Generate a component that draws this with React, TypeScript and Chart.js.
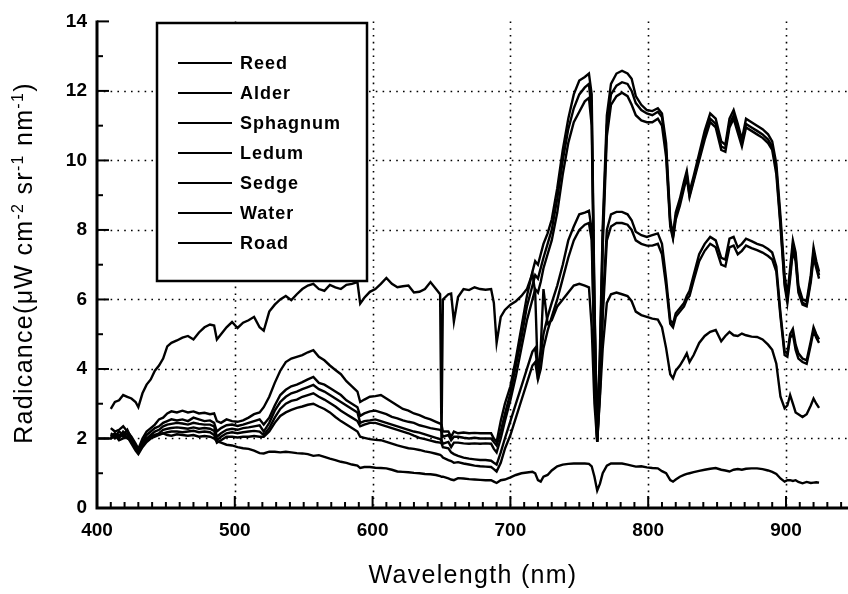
import React, { useEffect, useRef } from "react";
import { Chart, registerables } from "chart.js";

Chart.register(...registerables);

// Wavelength grid (nm), shared by all series
const wavelengths = [
  400, 405, 410, 413, 416, 419, 422, 425, 428, 430,
  433, 436, 439, 442, 445, 448, 451, 454, 458, 462,
  466, 470, 474, 478, 482, 485, 487, 490, 494, 498,
  502, 506, 510, 514, 518, 521, 525, 529, 533, 537,
  541, 545, 549, 553, 557, 561, 565, 569, 573, 577,
  581, 585, 589, 591, 594, 598, 602, 606, 610, 614,
  618, 622, 626, 630, 634, 638, 642, 646, 649, 650,
  651, 655, 657, 659, 662, 666, 670, 674, 678, 682,
  686, 688, 690, 693, 696, 700, 704, 708, 712, 716,
  718, 720, 722, 724, 727, 730, 734, 738, 742, 746,
  750, 754, 757, 759, 761, 763, 765, 767, 770, 773,
  777, 781, 785, 788, 791, 795, 799, 803, 807, 810,
  813, 816, 818, 820, 823, 826, 828, 830, 833, 837,
  841, 845, 849, 853, 856, 859, 862, 865, 868, 871,
  875, 879, 883, 887, 890, 893, 896, 899, 901, 903,
  905, 907, 909, 912, 915, 918, 920, 922, 924,
];

const reed = [
  null, null, 2.3, 2.2, 2.25, 2.35, 2.2, 2.05, 1.85, 1.7,
  2.0, 2.2, 2.3, 2.4, 2.55, 2.6, 2.72, 2.78, 2.75, 2.8,
  2.75, 2.78, 2.72, 2.74, 2.7, 2.72, 2.5, 2.45, 2.55, 2.5,
  2.48, 2.52, 2.6, 2.7, 2.75, 2.9, 3.2, 3.6, 3.95, 4.2,
  4.3, 4.35, 4.4, 4.48, 4.54, 4.35, 4.25, 4.1, 3.97, 3.85,
  3.65, 3.5, 3.35, 3.05, 3.12, 3.2, 3.22, 3.25, 3.15, 3.05,
  2.95, 2.85, 2.8, 2.72, 2.67, 2.6, 2.55, 2.48, 2.43, 2.4,
  2.2, 2.2, 2.05, 2.2, 2.15, 2.17, 2.15, 2.16, 2.15, 2.15,
  2.15, 2.0, 1.9, 2.5, 3.0, 3.5, 4.3, 5.2, 6.1, 6.8,
  7.1, 7.0, 7.3, 7.6, 7.9, 8.3, 9.2, 10.3, 11.2, 11.9,
  12.3, 12.4, 12.5, 11.9, 6.0, 1.95, 4.6, 8.1, 11.3, 12.2,
  12.5, 12.58, 12.5, 12.35, 11.85, 11.6, 11.45, 11.42, 11.5, 11.35,
  10.5, 8.3, 7.85, 8.5, 8.9, 9.4, 9.7, 9.1, 9.55, 10.2,
  10.85, 11.35, 11.2, 10.55, 10.45, 11.2, 11.45, 11.05, 10.6, 11.2,
  11.1, 11.0, 10.9, 10.75, 10.55, 9.9, 8.4, 6.7, 6.1, 6.9,
  7.7, 7.35, 6.4, 6.0, 5.95, 6.7, 7.5, 7.1, 6.8,
];

const alder = [
  null, null, 2.15, 2.05, 2.2, 2.1, 2.25, 2.0, 1.8, 1.65,
  1.9, 2.1, 2.2, 2.3, 2.35, 2.45, 2.5, 2.55, 2.52, 2.55,
  2.5, 2.6, 2.55, 2.5, 2.52, 2.45, 2.2, 2.3, 2.38, 2.4,
  2.36, 2.4, 2.45, 2.5, 2.55, 2.4, 2.6, 2.95, 3.25, 3.4,
  3.5, 3.55, 3.62, 3.7, 3.77, 3.6, 3.55, 3.45, 3.35, 3.25,
  3.1, 3.0, 2.9, 2.65, 2.72, 2.78, 2.8, 2.75, 2.7, 2.62,
  2.58, 2.52, 2.48, 2.45, 2.38, 2.34, 2.3, 2.27, 2.25, 2.2,
  2.05, 2.1, 1.95, 2.05, 2.05, 2.02, 2.0, 2.02, 2.0, 2.0,
  2.0, 1.9, 1.8, 2.2, 2.7, 3.3, 4.1, 4.9, 5.8, 6.4,
  6.7, 6.6, 6.9, 7.2, 7.6, 8.0, 8.9, 10.0, 10.9, 11.5,
  11.9, 12.1, 12.2, 11.4, 5.8, 1.95, 4.3, 7.8, 11.0, 11.9,
  12.15, 12.25, 12.2, 12.0, 11.65, 11.45, 11.35, 11.3, 11.4, 11.25,
  10.3, 8.2, 7.8, 8.4, 8.8, 9.3, 9.6, 9.0, 9.45, 10.1,
  10.7, 11.2, 11.05, 10.4, 10.35, 11.05, 11.3, 10.9, 10.5, 11.05,
  10.95, 10.85, 10.75, 10.6, 10.4, 9.75, 8.2, 6.5, 6.0, 6.75,
  7.55, 7.2, 6.3, 5.9, 5.85, 6.6, 7.35, 7.0, 6.7,
];

const sphagnum = [
  null, null, 2.05, 2.15, 2.0, 2.2, 2.1, 1.95, 1.75, 1.6,
  1.85, 2.0, 2.1, 2.2, 2.25, 2.35, 2.4, 2.42, 2.45, 2.43,
  2.4, 2.45, 2.42, 2.4, 2.4, 2.35, 2.05, 2.15, 2.25, 2.28,
  2.25, 2.3, 2.32, 2.35, 2.38, 2.2, 2.45, 2.8, 3.05, 3.2,
  3.3, 3.35, 3.42, 3.48, 3.54, 3.42, 3.35, 3.25, 3.15, 3.05,
  2.95, 2.85, 2.75, 2.45, 2.5, 2.52, 2.55, 2.5, 2.45, 2.4,
  2.35, 2.3, 2.25, 2.2, 2.17, 2.12, 2.07, 2.02, 1.98, 1.95,
  1.85, 1.9, 1.75, 1.88, 1.88, 1.86, 1.85, 1.86, 1.85, 1.86,
  1.85, 1.7, 1.6, 2.0, 2.5, 3.1, 3.8, 4.6, 5.4, 6.0,
  6.3, 6.2, 6.5, 6.9, 7.3, 7.7, 8.5, 9.6, 10.5, 11.1,
  11.4, 11.7, 11.8, 11.0, 5.5, 1.9, 4.0, 7.5, 10.7, 11.6,
  11.85, 11.95, 11.85, 11.6, 11.3, 11.15, 11.1, 11.1, 11.2, 11.0,
  10.1, 8.1, 7.75, 8.3, 8.7, 9.2, 9.5, 8.95, 9.4, 10.0,
  10.6, 11.1, 10.95, 10.3, 10.25, 10.95, 11.2, 10.8, 10.4, 10.95,
  10.85, 10.75, 10.65, 10.5, 10.3, 9.6, 8.1, 6.4, 5.9, 6.6,
  7.4, 7.1, 6.2, 5.85, 5.8, 6.5, 7.2, 6.9, 6.6,
];

const ledum = [
  null, null, 2.1, 2.0, 2.1, 2.05, 2.15, 1.9, 1.7, 1.58,
  1.8, 1.95, 2.05, 2.1, 2.15, 2.25, 2.28, 2.3, 2.32, 2.3,
  2.28, 2.32, 2.28, 2.3, 2.28, 2.22, 1.95, 2.05, 2.15, 2.18,
  2.15, 2.18, 2.2, 2.22, 2.2, 2.1, 2.3, 2.6, 2.85, 3.0,
  3.08, 3.12, 3.2, 3.25, 3.3, 3.2, 3.12, 3.02, 2.92, 2.8,
  2.7, 2.6, 2.5, 2.35, 2.4, 2.45, 2.45, 2.4, 2.35, 2.3,
  2.25, 2.2, 2.15, 2.08, 2.02, 1.98, 1.94, 1.9, 1.88, 1.86,
  1.75, 1.72, 1.6, 1.55, 1.5, 1.45, 1.42, 1.4, 1.38, 1.38,
  1.36, 1.3, 1.25, 1.6, 2.0, 2.5, 3.0, 3.5, 4.0, 4.5,
  4.6, 3.9, 4.4, 5.0, 5.5, 5.9, 6.4, 7.0, 7.7, 8.1,
  8.45, 8.5, 8.55, 8.0, 4.5, 1.95, 3.5, 5.8, 8.0, 8.45,
  8.52, 8.52, 8.45, 8.28, 7.95, 7.85, 7.8, 7.85, 7.9, 7.6,
  6.6, 5.4, 5.3, 5.6, 5.75, 5.9, 6.1, 6.25, 6.7, 7.3,
  7.6, 7.8, 7.7, 7.2, 7.15, 7.75, 7.8, 7.5, 7.6, 7.75,
  7.68, 7.6, 7.55, 7.45, 7.35, 6.95, 5.6, 4.5, 4.45, 5.0,
  5.15, 4.7, 4.45, 4.3, 4.25, 4.8, 5.2, 5.0, 4.85,
];

const sedge = [
  null, null, 2.0, 2.1, 1.95, 2.0, 2.05, 1.85, 1.65, 1.55,
  1.75, 1.9, 2.0, 2.05, 2.1, 2.15, 2.18, 2.2, 2.2, 2.18,
  2.2, 2.22, 2.18, 2.2, 2.18, 2.1, 1.88, 1.95, 2.05, 2.05,
  2.03, 2.05, 2.05, 2.07, 2.05, 2.05, 2.2, 2.45, 2.65, 2.75,
  2.82, 2.88, 2.92, 2.97, 3.0, 2.92, 2.85, 2.75, 2.62, 2.5,
  2.4, 2.3, 2.2, 2.05, 2.02, 1.98, 1.96, 1.95, 1.9, 1.85,
  1.8, 1.76, 1.72, 1.7, 1.67, 1.63, 1.6, 1.56, 1.53, 1.5,
  1.45, 1.38, 1.35, 1.3, 1.32, 1.28, 1.25, 1.22, 1.2, 1.19,
  1.18, 1.12, 1.05, 1.3, 1.7, 2.1, 2.6, 3.1, 3.6, 4.1,
  4.2, 3.7, 4.0, 4.6, 5.1, 5.5, 6.0, 6.6, 7.2, 7.7,
  8.0, 8.15, 8.2, 7.7, 4.3, 1.9, 3.3, 5.5, 7.7, 8.1,
  8.2, 8.2, 8.15, 8.0, 7.7, 7.6, 7.55, 7.55, 7.6, 7.3,
  6.4, 5.3, 5.2, 5.5, 5.65, 5.8, 6.0, 6.1, 6.55, 7.1,
  7.4, 7.6, 7.5, 7.0, 6.95, 7.5, 7.55, 7.3, 7.4, 7.55,
  7.48, 7.42, 7.35, 7.25, 7.15, 6.8, 5.5, 4.4, 4.35, 4.9,
  5.0, 4.55, 4.3, 4.2, 4.15, 4.7, 5.1, 4.9, 4.75,
];

const water = [
  2.0, 2.0, 2.0, 2.1, 2.05, 2.12, 2.0, 1.95, 1.75, 1.62,
  1.85, 2.0, 2.05, 2.1, 2.12, 2.15, 2.1, 2.08, 2.12, 2.1,
  2.08, 2.1, 2.05, 2.07, 2.05, 2.0, 1.92, 1.88, 1.82, 1.8,
  1.75, 1.72, 1.7, 1.65, 1.58, 1.57, 1.62, 1.62, 1.6, 1.62,
  1.6, 1.58, 1.57, 1.55, 1.5, 1.52, 1.47, 1.42, 1.38, 1.33,
  1.3, 1.25, 1.22, 1.15, 1.18, 1.18, 1.16, 1.15, 1.14, 1.1,
  1.05, 1.04, 1.03, 1.01, 1.0, 0.98, 0.97, 0.95, 0.92, 0.9,
  0.9, 0.85, 0.82, 0.8, 0.86, 0.85, 0.83, 0.82, 0.81, 0.8,
  0.8, 0.76, 0.72, 0.8, 0.82, 0.88, 0.95, 1.0, 1.02, 1.04,
  1.0, 0.8, 0.76, 0.9, 0.95, 1.08, 1.2, 1.25, 1.27, 1.28,
  1.28, 1.28, 1.27, 1.2, 0.9, 0.5, 0.7, 1.0, 1.22, 1.28,
  1.28, 1.28, 1.25, 1.22, 1.19, 1.2, 1.17, 1.15, 1.14, 1.06,
  1.0, 0.8, 0.76, 0.82, 0.9, 0.95, 0.98, 1.0, 1.03, 1.07,
  1.1, 1.13, 1.15, 1.1, 1.08, 1.05, 1.1, 1.12, 1.1, 1.13,
  1.14, 1.14, 1.12, 1.08, 1.04, 0.98, 0.85, 0.76, 0.8, 0.8,
  0.78, 0.8, 0.75, 0.71, 0.75, 0.72, 0.73, 0.74, 0.73,
];

const road = [
  null, null, 2.85, 3.05, 3.1, 3.25, 3.2, 3.15, 3.05, 2.9,
  3.3, 3.55, 3.7, 3.95, 4.1, 4.3, 4.65, 4.75, 4.82, 4.9,
  4.95, 4.85, 5.05, 5.2, 5.28, 5.25, 4.85, 5.0, 5.2, 5.35,
  5.18, 5.33, 5.4, 5.5, 5.2, 5.1, 5.65, 5.85, 6.0, 6.1,
  5.98, 6.15, 6.3, 6.4, 6.45, 6.3, 6.25, 6.42, 6.35, 6.3,
  6.42, 6.45, 6.5, 5.88, 6.05, 6.22, 6.3, 6.45, 6.62, 6.45,
  6.35, 6.38, 6.4, 6.2, 6.22, 6.3, 6.5, 6.3, 6.15, 1.9,
  6.0, 6.15, 6.17, 5.36, 6.07, 6.3, 6.27, 6.35, 6.3, 6.28,
  6.3, 5.9, 4.75, 5.5, 5.7, 5.85, 5.95, 6.1, 6.3, 6.75,
  6.2, 3.7, 4.6, 6.3, 5.3, 5.4, 5.8, 6.0, 6.2, 6.4,
  6.45, 6.4, 6.35, 5.2, 3.0, 1.9, 3.2, 4.6, 5.9, 6.15,
  6.2, 6.15, 6.1, 5.95, 5.65, 5.55, 5.5, 5.45, 5.42, 5.2,
  4.6, 3.85, 3.73, 3.95, 4.1, 4.3, 4.45, 4.2, 4.4, 4.75,
  4.95, 5.07, 5.12, 4.8, 4.95, 5.07, 4.97, 4.95, 5.02, 4.97,
  4.93, 4.92, 4.85, 4.7, 4.55, 4.15, 3.2, 2.87, 2.95, 3.25,
  3.0, 2.75, 2.7, 2.62, 2.7, 2.95, 3.15, 3.0, 2.88,
];

const seriesLabels = ["Reed", "Alder", "Sphagnum", "Ledum", "Sedge", "Water", "Road"];
const seriesValues = [reed, alder, sphagnum, ledum, sedge, water, road];

const xTickValues = [400, 500, 600, 700, 800, 900];
const xGridValues = [500, 600, 700, 800, 900];
const yGridValues = [2, 4, 6, 8, 10, 12];

const xTitle = "Wavelength (nm)";
// y title pieces: [text, isSuperscript]
const yTitleParts: [string, boolean][] = [
  ["Radicance(\u03bcW cm", false],
  ["-2", true],
  [" sr", false],
  ["-1", true],
  [" nm", false],
  ["-1", true],
  [")", false],
];

const FONT = '"Liberation Sans", Arial, Helvetica, sans-serif';

const framePlugin = {
  id: "frame",
  beforeDatasetsDraw(chart: any) {
    const { ctx, chartArea: a, scales } = chart;
    const x = scales.x, y = scales.y;
    ctx.save();
    ctx.strokeStyle = "#000";
    ctx.lineWidth = 1.6;
    ctx.setLineDash([1.6, 5.2]);
    for (const v of xGridValues) {
      const px = Math.round(x.getPixelForValue(v)) + 0.5;
      ctx.beginPath();
      ctx.moveTo(px, a.top);
      ctx.lineTo(px, a.bottom);
      ctx.stroke();
    }
    for (const v of yGridValues) {
      const py = Math.round(y.getPixelForValue(v)) + 0.5;
      ctx.beginPath();
      ctx.moveTo(a.left, py);
      ctx.lineTo(a.right, py);
      ctx.stroke();
    }
    ctx.restore();
  },
  afterDatasetsDraw(chart: any) {
    const { ctx, chartArea: a, scales } = chart;
    const x = scales.x, y = scales.y;
    ctx.save();
    ctx.strokeStyle = "#000";
    ctx.setLineDash([]);
    ctx.lineWidth = 2;
    for (let v = x.min; v <= x.max; v += 10) {
      const px = x.getPixelForValue(v);
      const len = v % 100 === 0 ? 12 : 6;
      ctx.beginPath();
      ctx.moveTo(px, a.bottom);
      ctx.lineTo(px, a.bottom - len);
      ctx.stroke();
    }
    for (let v = y.min; v <= y.max; v += 1) {
      const py = y.getPixelForValue(v);
      const len = v % 2 === 0 ? 12 : 6;
      ctx.beginPath();
      ctx.moveTo(a.left, py);
      ctx.lineTo(a.left + len, py);
      ctx.stroke();
    }
    ctx.lineWidth = 3;
    ctx.beginPath();
    ctx.moveTo(a.left, a.top - 1);
    ctx.lineTo(a.left, a.bottom);
    ctx.lineTo(a.right, a.bottom);
    ctx.stroke();
    ctx.restore();
  },
  afterDraw(chart: any) {
    const { ctx } = chart;
    const datasets = chart.data.datasets;
    ctx.save();
    const bx = 157, by = 23, bw = 210, bh = 258;
    ctx.fillStyle = "#fff";
    ctx.fillRect(bx, by, bw, bh);
    ctx.strokeStyle = "#000";
    ctx.lineWidth = 2.5;
    ctx.strokeRect(bx, by, bw, bh);
    ctx.font = `bold 18px ${FONT}`;
    (ctx as any).letterSpacing = "1px";
    ctx.fillStyle = "#000";
    ctx.textBaseline = "middle";
    ctx.textAlign = "left";
    datasets.forEach((ds: any, i: number) => {
      const cy = 63 + i * 30;
      ctx.lineWidth = 2.2;
      ctx.beginPath();
      ctx.moveTo(178, cy);
      ctx.lineTo(232, cy);
      ctx.stroke();
      ctx.fillText(ds.label, 240, cy + 1);
    });
    ctx.font = `25px ${FONT}`;
    (ctx as any).letterSpacing = "1.3px";
    ctx.textBaseline = "alphabetic";
    ctx.textAlign = "center";
    ctx.fillText(xTitle, 473, 583);
    ctx.translate(32, 263);
    ctx.rotate(-Math.PI / 2);
    const base = 25, sup = 16;
    let total = 0;
    for (const [t, s] of yTitleParts) {
      ctx.font = `${s ? sup : base}px ${FONT}`;
      total += ctx.measureText(t).width;
    }
    let cx = -total / 2;
    ctx.textAlign = "left";
    for (const [t, s] of yTitleParts) {
      ctx.font = `${s ? sup : base}px ${FONT}`;
      ctx.fillText(t, cx, s ? -9 : 0);
      cx += ctx.measureText(t).width;
    }
    ctx.restore();
  },
};

export default function App() {
  const ref = useRef<HTMLCanvasElement | null>(null);
  useEffect(() => {
    if (!ref.current) return;
    const tickFont = { family: FONT, size: 19, weight: "bold" as const };
    const chart = new Chart(ref.current, {
      type: "line",
      data: {
        datasets: seriesLabels.map((label, si) => ({
          label,
          data: wavelengths.map((w, i) => ({ x: w, y: seriesValues[si][i] as any })),
          borderColor: "#000",
          backgroundColor: "#000",
          borderWidth: 2.4,
          pointRadius: 0,
          tension: 0,
          fill: false,
          spanGaps: false,
        })),
      },
      options: {
        animation: false,
        responsive: false,
        devicePixelRatio: 1,
        layout: { padding: { top: 21, right: 0, left: 0, bottom: 0 } },
        plugins: {
          legend: { display: false },
          tooltip: { enabled: false },
          title: { display: false },
        },
        scales: {
          x: {
            type: "linear",
            min: 400,
            max: 945,
            afterFit: (s: any) => { s.height = 86; },
            afterBuildTicks: (s: any) => { s.ticks = xTickValues.map((v) => ({ value: v })); },
            ticks: {
              color: "#000",
              font: tickFont,
              padding: 11,
              maxRotation: 0,
              autoSkip: false,
              callback: (v: any) => String(v),
            },
            grid: { display: false, drawTicks: false },
            border: { display: false },
          },
          y: {
            type: "linear",
            min: 0,
            max: 14,
            afterFit: (s: any) => { s.width = 97; },
            ticks: { stepSize: 2, color: "#000", font: tickFont, padding: 10 },
            grid: { display: false, drawTicks: false },
            border: { display: false },
          },
        },
      } as any,
      plugins: [framePlugin],
    });
    return () => chart.destroy();
  }, []);
  return (
    <div style={{ position: "fixed", left: 0, top: 0, width: 848, height: 594, background: "#fff" }}>
      <canvas ref={ref} width={848} height={594} style={{ display: "block" }} />
    </div>
  );
}
